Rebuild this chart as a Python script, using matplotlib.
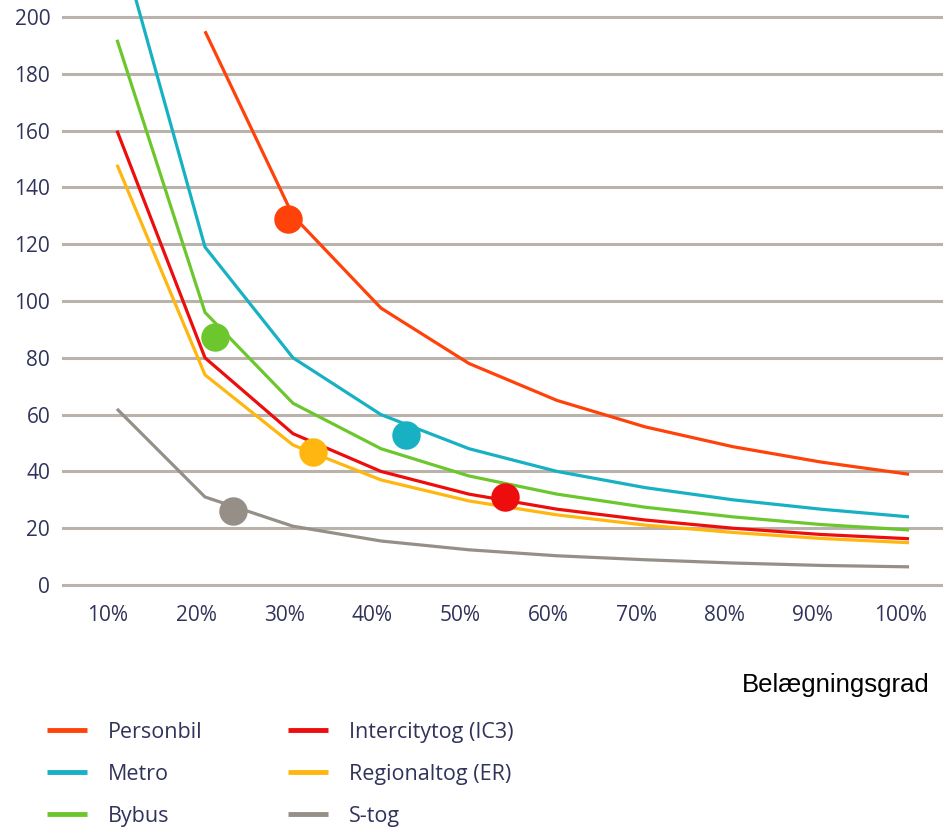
import matplotlib
matplotlib.use("Agg")
import matplotlib.pyplot as plt
from matplotlib.transforms import ScaledTranslation
import numpy as np

# Occupancy (%) at which each curve is sampled
occupancy = [10, 20, 30, 40, 50, 60, 70, 80, 90, 100]

# Cost curves per transport mode (None = no value at that occupancy)
personbil = [None, 195, 130, 97.5, 78, 65, 55.7, 48.7, 43.3, 39]
metro = [230, 119, 80, 60, 48, 40, 34.3, 30, 26.7, 24]
bybus = [192, 96, 64, 48, 38.4, 32, 27.4, 24, 21.3, 19.4]
intercity = [160, 80, 53.3, 40, 32, 26.7, 22.9, 20, 17.8, 16.3]
regional = [148, 74, 49.3, 37, 29.6, 24.7, 21.1, 18.5, 16.4, 14.9]
stog = [62, 31, 20.7, 15.5, 12.4, 10.3, 8.9, 7.75, 6.9, 6.4]

# Typical occupancy marker for each mode (occupancy %, value)
dot_x = [29.4, 42.8, 21.1, 54.1, 32.3, 23.2]
dot_y = [129, 52.8, 87.5, 31, 46.8, 26]

labels = ["Personbil", "Metro", "Bybus", "Intercitytog (IC3)",
          "Regionaltog (ER)", "S-tog"]
colors = ["#ff4209", "#17b1c3", "#6cc72e", "#ee0d0d", "#ffb70f", "#958f88"]
series = [personbil, metro, bybus, intercity, regional, stog]

y_ticks = [0, 20, 40, 60, 80, 100, 120, 140, 160, 180, 200]
x_tick_labels = ["10%", "20%", "30%", "40%", "50%", "60%", "70%", "80%",
                 "90%", "100%"]

tick_font = ["Open Sans", "DejaVu Sans"]
tick_color = "#30335a"

fig = plt.figure(figsize=(9.43, 8.3), dpi=100)
W, H = 943, 830
ax_left_px, ax_bottom_px = 62, 590.7
ax = fig.add_axes([ax_left_px / W, 1 - ax_bottom_px / H,
                   (W - ax_left_px) / W, ax_bottom_px / H])

for vals, col, lab in zip(series, colors, labels):
    arr = np.array([np.nan if v is None else v for v in vals], dtype=float)
    ax.plot(occupancy, arr, color=col, lw=2.3, label=lab,
            solid_capstyle="butt", zorder=3)

for x, y, col in zip(dot_x, dot_y, colors):
    ax.plot([x], [y], "o", color=col, ms=20.5, mec="none", zorder=4)

ax.set_xlim(3.75, 103.86)
ax.set_ylim(-2, 206)
ax.set_yticks(y_ticks)
ax.set_xticks(occupancy)
ax.set_xticklabels(x_tick_labels)

ax.grid(axis="y", color="#bab3ab", lw=2.2, zorder=1)
ax.grid(axis="x", visible=False)
ax.set_axisbelow(True)
for s in ax.spines.values():
    s.set_visible(False)
ax.tick_params(axis="both", length=0, colors=tick_color, labelsize=15)
ax.tick_params(axis="y", pad=8.5)
ax.tick_params(axis="x", pad=10.5)
for lbl in ax.get_xticklabels() + ax.get_yticklabels():
    lbl.set_family(tick_font)
shift = ScaledTranslation(-9 / 100, 0, fig.dpi_scale_trans)
for lbl in ax.get_xticklabels():
    lbl.set_transform(lbl.get_transform() + shift)

fig.text(930 / W, 1 - 685 / H, "Belægningsgrad", ha="right", va="center",
         fontsize=18.5, family=["Liberation Sans", "DejaVu Sans"],
         color="black")

leg = ax.legend(loc="upper left", bbox_to_anchor=(47 / W, 1 - 722 / H),
                bbox_transform=fig.transFigure, ncol=2, frameon=False,
                borderpad=0, borderaxespad=0, handlelength=1.86,
                handletextpad=0.95, columnspacing=4.0, labelspacing=0.97,
                prop={"family": tick_font, "size": 15.5})
for t in leg.get_texts():
    t.set_color(tick_color)
for h in leg.get_lines():
    h.set_linewidth(3.5)

fig.savefig("out.png", dpi=100)
